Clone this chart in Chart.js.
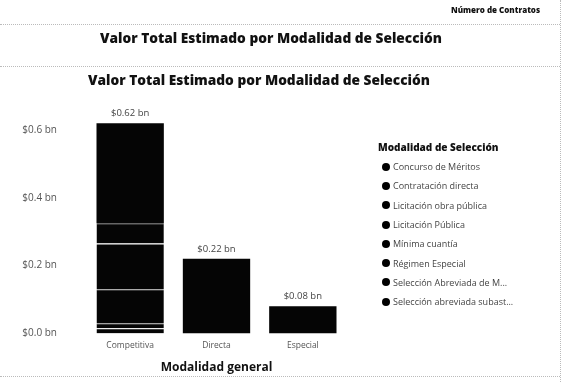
<!DOCTYPE html>
<html>
<head>
<meta charset="utf-8">
<script src="https://cdn.jsdelivr.net/npm/chart.js@4.4.0/dist/chart.umd.min.js"></script>
<style>
  html, body { margin: 0; padding: 0; background: #fff; }
  body { width: 566px; height: 382px; position: relative; overflow: hidden; font-family: "Open Sans", "Liberation Sans", sans-serif; }
  #chart { position: absolute; left: 0; top: 0; }
  .t { position: absolute; white-space: nowrap; font-weight: 800; color: #111; }
  .dots { position: absolute; border-top: 1px dotted #bbb; height: 0; }
  .vdots { position: absolute; border-left: 1px dotted #bbb; width: 0; }
  #legend { position: absolute; left: 378px; top: 140px; font-size: 9px; color: #444; }
  #legend .lt { font-weight: 800; color: #111; font-size: 10px; margin-bottom: 3px; }
  #legend .it { height: 19.3px; display: flex; align-items: center; margin-left: 4px; }
  #legend .dot { width: 8px; height: 8px; border-radius: 50%; background: #000; margin-right: 3px; flex: none; }
</style>
</head>
<body>
<canvas id="chart" width="566" height="382"></canvas>

<div class="t" style="left:451px; top:4px; font-size:8px;">Número de Contratos</div>
<div class="dots" style="left:0; top:24px; width:560px;"></div>
<div class="t" style="left:100px; top:28px; font-size:13.7px;">Valor Total Estimado por Modalidad de Selección</div>
<div class="dots" style="left:0; top:66px; width:560px;"></div>
<div class="t" style="left:88px; top:70px; font-size:13.7px;">Valor Total Estimado por Modalidad de Selección</div>
<div class="vdots" style="left:560px; top:0; height:382px;"></div>
<div class="dots" style="left:0; top:376px; width:560px;"></div>

<div id="legend"></div>

<script>
// Categories (Modalidad general)
const categories = ["Competitiva", "Directa", "Especial"];

// Series (Modalidad de Selección), values in billions of pesos
const seriesNames = [
  "Concurso de Méritos",
  "Contratación directa",
  "Licitación obra pública",
  "Licitación Pública",
  "Mínima cuantía",
  "Régimen Especial",
  "Selección Abreviada de Menor Cuantía",
  "Selección abreviada subasta inversa"
];
const concursoMeritos      = [0.015, 0, 0];
const contratacionDirecta  = [0, 0.22, 0];
const licitacionObra       = [0.015, 0, 0];
const licitacionPublica    = [0.10, 0, 0];
const minimaCuantia        = [0.135, 0, 0];
const regimenEspecial      = [0, 0, 0.08];
const seleccionMenor       = [0.06, 0, 0];
const seleccionSubasta     = [0.295, 0, 0];

const legendLabels = [
  "Concurso de Méritos",
  "Contratación directa",
  "Licitación obra pública",
  "Licitación Pública",
  "Mínima cuantía",
  "Régimen Especial",
  "Selección Abreviada de M...",
  "Selección abreviada subast..."
];

// Y axis ticks (billions)
const yTicks = [0, 0.2, 0.4, 0.6];

const seriesValues = [
  concursoMeritos, contratacionDirecta, licitacionObra, licitacionPublica,
  minimaCuantia, regimenEspecial, seleccionMenor, seleccionSubasta
];
// thin light seams between stacked segments
const seams = ["#eee", null, "#666", "#777", "#fff", null, "#222", null];

const fmt = v => "$" + v.toFixed(v === 0 ? 1 : (Math.round(v * 10) === v * 10 ? 1 : 2)) + " bn";

const datasets = seriesNames.map((name, i) => ({
  label: name,
  data: seriesValues[i],
  backgroundColor: "#050505",
  borderColor: seams[i] || "#050505",
  borderWidth: seams[i] ? { top: 1, left: 0, right: 0, bottom: 0 } : 0,
  borderSkipped: "start",
  barPercentage: 0.78,
  categoryPercentage: 1.0,
  stack: "s"
}));

// Total label above each bar
const totalsPlugin = {
  id: "totals",
  afterDatasetsDraw(chart) {
    const { ctx, scales } = chart;
    ctx.save();
    ctx.font = '9.5px "Open Sans", sans-serif';
    ctx.fillStyle = "#444";
    ctx.textAlign = "center";
    ctx.textBaseline = "bottom";
    categories.forEach((c, j) => {
      const total = seriesValues.reduce((s, arr) => s + arr[j], 0);
      const x = scales.x.getPixelForValue(j);
      const y = scales.y.getPixelForValue(total);
      ctx.fillText(fmt(Math.round(total * 100) / 100), x, y - 5);
    });
    ctx.restore();
  }
};

new Chart(document.getElementById("chart"), {
  type: "bar",
  data: { labels: categories, datasets },
  plugins: [totalsPlugin],
  options: {
    responsive: false,
    animation: false,
    layout: { padding: { top: 96, right: 220, left: 0, bottom: 7 } },
    plugins: { legend: { display: false }, tooltip: { enabled: false }, title: { display: false } },
    scales: {
      x: {
        stacked: true,
        grid: { display: false, drawTicks: false },
        border: { display: false },
        ticks: { color: "#555", font: { size: 8.5, family: '"Open Sans", sans-serif' }, padding: 7 },
        title: { display: true, text: "Modalidad general", color: "#111",
                 font: { size: 12, weight: "bold", family: '"Open Sans", sans-serif' },
                 padding: { top: 3, bottom: 0 } }
      },
      y: {
        stacked: true,
        min: 0, max: 0.7,
        grid: { display: false, drawTicks: false },
        border: { display: false },
        afterBuildTicks(scale) { scale.ticks = yTicks.map(v => ({ value: v })); },
        afterFit(scale) { scale.width = 87; },
        ticks: { color: "#555", font: { size: 10, family: '"Open Sans", sans-serif' }, padding: 30,
                 callback: v => fmt(v) }
      }
    }
  }
});

// Legend
const lg = document.getElementById("legend");
lg.innerHTML = '<div class="lt">Modalidad de Selección</div>' +
  legendLabels.map(l => '<div class="it"><span class="dot"></span>' + l + '</div>').join("");
</script>
</body>
</html>
